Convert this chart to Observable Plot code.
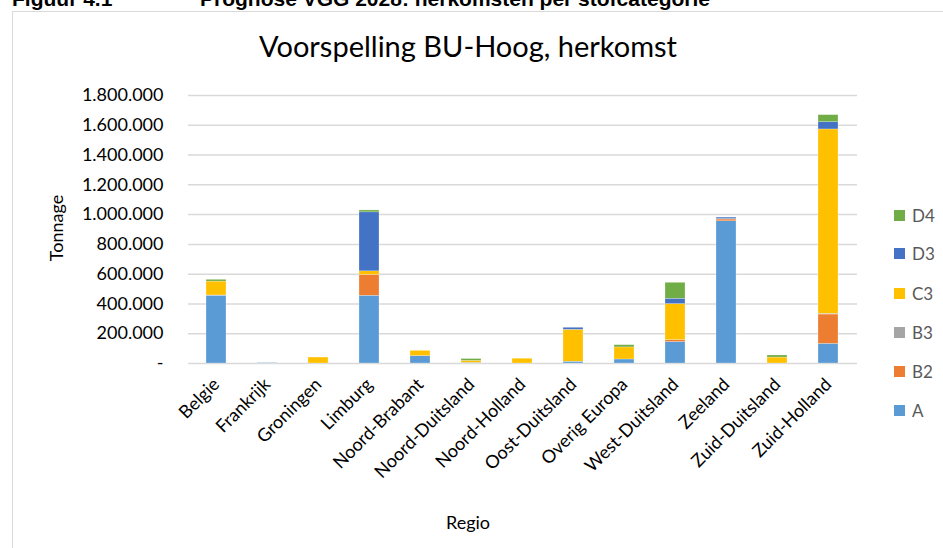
<!DOCTYPE html>
<html>
<head>
<meta charset="utf-8">
<script src="https://cdn.jsdelivr.net/npm/d3@7"></script>
<script src="https://cdn.jsdelivr.net/npm/@observablehq/plot@0.6"></script>
<style>
  html, body { margin: 0; padding: 0; background: #fff; overflow: hidden; }
  #wrap { position: relative; width: 943px; height: 548px; overflow: hidden; font-family: Lato, "Open Sans", sans-serif; }
  #frame { position: absolute; left: 12px; top: 11px; width: 960px; height: 560px; border: 1.5px solid #d9d9d9; box-sizing: border-box; }
  .hdr { position: absolute; top: -11px; font-family: "Liberation Sans", Arial, sans-serif; font-weight: bold; font-size: 21px; line-height: 20px; color: #000; white-space: nowrap; }
  #title { position: absolute; left: 0; width: 936px; top: 28px; text-align: center; font-size: 29px; color: #000; }
  #ylab { position: absolute; left: 56px; top: 228px; font-size: 18px; transform: translate(-50%, -50%) rotate(-90deg); color: #000; white-space: nowrap; }
  #xlab { position: absolute; left: 468px; top: 522px; font-size: 18px; transform: translate(-50%, -50%); color: #000; }
  #plot { position: absolute; left: 0; top: 0; }
  .leg { position: absolute; left: 894px; font-size: 17px; color: #595959; white-space: nowrap; }
  .leg span.sw { display: inline-block; width: 11px; height: 11px; margin-right: 7px; vertical-align: middle; position: relative; top: -2px; }
</style>
</head>
<body>
<div id="wrap">
  <div id="frame"></div>
  <div class="hdr" style="left:12px">Figuur 4.1</div>
  <div class="hdr" style="left:200px">Prognose VGG 2028: herkomsten per stofcategorie</div>
  <div id="plot"></div>
  <div id="title">Voorspelling BU-Hoog, herkomst</div>
  <div id="ylab">Tonnage</div>
  <div id="xlab">Regio</div>
  <div id="legend"></div>
</div>
<script>
const regions = ["Belgie", "Frankrijk", "Groningen", "Limburg", "Noord-Brabant", "Noord-Duitsland", "Noord-Holland", "Oost-Duitsland", "Overig Europa", "West-Duitsland", "Zeeland", "Zuid-Duitsland", "Zuid-Holland"];
const seriesNames = ["A", "B2", "B3", "C3", "D3", "D4"];
const seriesColors = ["#5b9bd5", "#ed7d31", "#a5a5a5", "#ffc000", "#4472c4", "#70ad47"];
const A  = [455000, 3000, 0, 455000, 50000, 4000, 0, 12000, 27000, 144000, 955000, 0, 132000];
const B2 = [0, 0, 0, 140000, 0, 0, 0, 0, 0, 13000, 12000, 0, 197000];
const B3 = [2000, 0, 0, 0, 0, 0, 0, 0, 0, 0, 3000, 0, 5000];
const C3 = [93000, 0, 40000, 24000, 35000, 14000, 32000, 214000, 81000, 242000, 0, 40000, 1238000];
const D3 = [0, 0, 0, 396000, 0, 0, 0, 14000, 0, 36000, 10000, 0, 49000];
const D4 = [12000, 0, 0, 13000, 0, 12000, 0, 0, 15000, 107000, 0, 14000, 47000];
const yTicks = [0, 200000, 400000, 600000, 800000, 1000000, 1200000, 1400000, 1600000, 1800000];

const values = {A, B2, B3, C3, D3, D4};
const data = [];
seriesNames.forEach(s => regions.forEach((r, i) => data.push({regio: r, cat: s, value: values[s][i]})));

const fmt = d => d === 0 ? "-" : d3.format(",")(d).replace(/,/g, ".");

const chart = Plot.plot({
  width: 943,
  height: 548,
  marginLeft: 188,
  marginRight: 86,
  marginTop: 95,
  marginBottom: 185,
  style: {fontFamily: "Lato, 'Open Sans', sans-serif", background: "transparent", overflow: "visible"},
  x: {domain: regions, paddingInner: 0.6, paddingOuter: 0.3, label: null},
  y: {domain: [0, 1800000], label: null},
  color: {domain: seriesNames, range: seriesColors},
  marks: [
    Plot.gridY(yTicks, {stroke: "#d9d9d9", strokeOpacity: 1, strokeWidth: 1.5}),
    Plot.barY(data, Plot.stackY({x: "regio", y: "value", fill: "cat", order: seriesNames, stroke: "#fff", strokeWidth: 0.4, strokeOpacity: 0.6})),
    Plot.axisY(yTicks, {tickSize: 0, tickPadding: 25, tickFormat: fmt, fontSize: 18, fill: "#000", label: null}),
    Plot.axisX({tickSize: 0, tickPadding: 18, tickRotate: -45, fontSize: 18, fill: "#000", label: null})
  ]
});
document.getElementById("plot").appendChild(chart);

// legend (top to bottom: reverse stack order)
const legendY = {D4: 216, D3: 254, C3: 294, B3: 333, B2: 372, A: 411};
const legend = document.getElementById("legend");
seriesNames.slice().reverse().forEach(s => {
  const d = document.createElement("div");
  d.className = "leg";
  d.style.top = (legendY[s] - 11) + "px";
  d.innerHTML = `<span class="sw" style="background:${seriesColors[seriesNames.indexOf(s)]}"></span>${s}`;
  legend.appendChild(d);
});
</script>
</body>
</html>
